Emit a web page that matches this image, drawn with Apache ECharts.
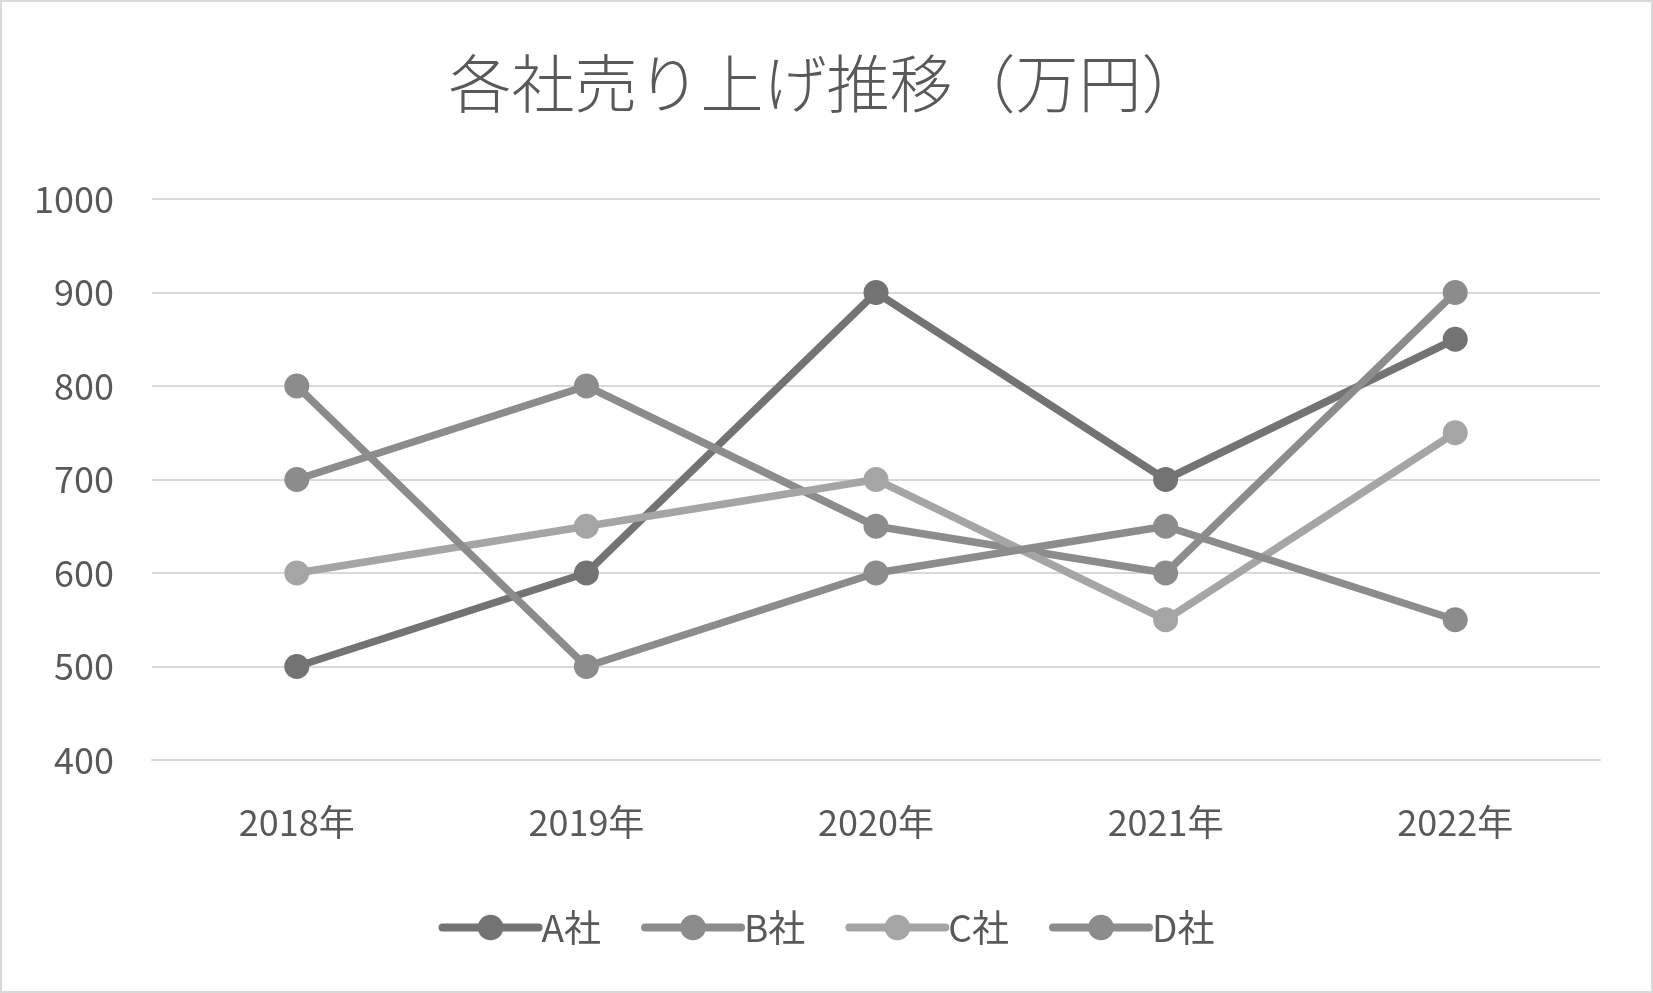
<!DOCTYPE html>
<html>
<head>
<meta charset="utf-8">
<script src="https://cdn.jsdelivr.net/npm/echarts@6/dist/echarts.min.js"></script>
<style>
  html, body { margin: 0; padding: 0; background: #fff; }
  #chart { width: 1653px; height: 993px; box-sizing: border-box; border: 2px solid #d9d9d9; }
</style>
</head>
<body>
<div id="chart"></div>
<script>
// 年度（横軸）
const years = ['2018年', '2019年', '2020年', '2021年', '2022年']
// 各社の売上（万円）
const salesA = [500, 600, 900, 700, 850]
const salesB = [700, 800, 650, 600, 900]
const salesC = [600, 650, 700, 550, 750]
const salesD = [800, 500, 600, 650, 550]
const seriesNames = ['A社', 'B社', 'C社', 'D社']
const seriesColors = ['#737373', '#8c8c8c', '#a5a5a5', '#8c8c8c']
const yMin = 400
const yMax = 1000
const yStep = 100

const font = '"Noto Sans CJK JP", "Open Sans", sans-serif'
const chart = echarts.init(document.getElementById('chart'))

const seriesArr = [salesA, salesB, salesC, salesD].map((data, i) => {
  return {
    name: seriesNames[i],
    type: 'line',
    data: data,
    symbol: 'circle',
    symbolSize: 25,
    color: seriesColors[i],
    lineStyle: { width: 7.5, color: seriesColors[i], cap: 'round' },
    itemStyle: { color: seriesColors[i] },
    z: 2 + i
  }
})

const option = {
  animation: false,
  textStyle: { fontFamily: font },
  title: {
    text: '各社売り上げ推移（万円）',
    left: 'center',
    top: 45,
    textStyle: { fontSize: 63, fontWeight: 300, color: '#595959', fontFamily: font }
  },
  grid: {
    left: 150,
    right: 51,
    top: 197,
    bottom: 231
  },
  legend: {
    bottom: 40,
    left: 'center',
    itemWidth: 96,
    itemHeight: 32,
    itemGap: 40,
    lineStyle: { width: 8, cap: 'round' },
    textStyle: { fontSize: 37, color: '#595959', fontFamily: font, padding: [0, 0, 0, -2] },
    data: seriesNames
  },
  xAxis: {
    type: 'category',
    data: years,
    boundaryGap: true,
    axisLine: { lineStyle: { color: '#d9d9d9', width: 2 } },
    axisTick: { show: false },
    axisLabel: { fontSize: 36, color: '#595959', margin: 44 }
  },
  yAxis: {
    type: 'value',
    min: yMin,
    max: yMax,
    interval: yStep,
    axisLine: { show: false },
    axisTick: { show: false },
    axisLabel: { fontSize: 36, color: '#595959', margin: 38, formatter: v => String(v) },
    splitLine: { lineStyle: { color: '#d9d9d9', width: 2 } }
  },
  series: seriesArr
}

chart.setOption(option)
</script>
</body>
</html>
